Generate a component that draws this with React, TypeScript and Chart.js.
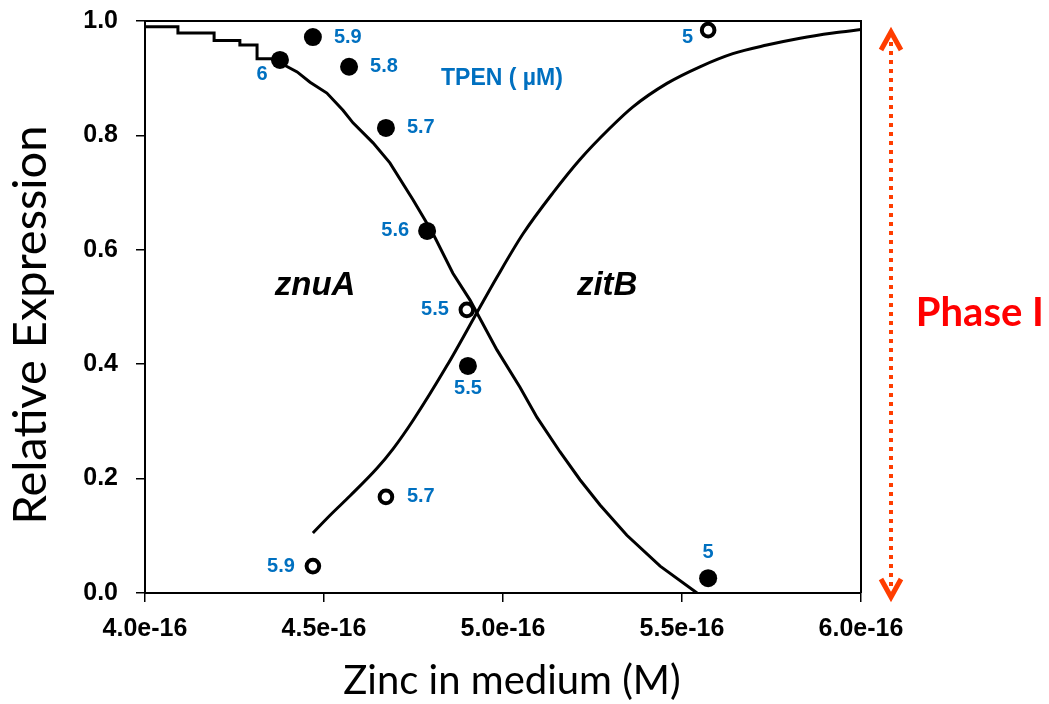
import React, { useEffect, useRef } from 'react';
import { Chart, registerables } from 'chart.js';

Chart.register(...registerables);

// ---- Axis ticks ----
const xTicks = [4.0e-16, 4.5e-16, 5.0e-16, 5.5e-16, 6.0e-16];
const yTicks = [0, 0.2, 0.4, 0.6, 0.8, 1.0];

// ---- Axis titles ----
const xTitle = 'Zinc in medium (M)';
const yTitle = 'Relative Expression';

// ---- Fitted curves ----
const znuACurveX = [
  4.0e-16, 4.092e-16, 4.092e-16, 4.193e-16, 4.193e-16, 4.265e-16, 4.265e-16, 4.313e-16, 4.313e-16, 4.355e-16,
  4.377e-16, 4.425e-16, 4.461e-16, 4.508e-16, 4.553e-16, 4.581e-16, 4.637e-16, 4.684e-16, 4.749e-16, 4.804e-16,
  4.860e-16, 4.908e-16, 4.927e-16, 4.983e-16, 5.047e-16, 5.095e-16, 5.159e-16, 5.215e-16, 5.271e-16, 5.346e-16,
  5.439e-16, 5.542e-16,
];
const znuACurveY = [
  0.990, 0.990, 0.979, 0.979, 0.966, 0.966, 0.958, 0.958, 0.934, 0.934,
  0.927, 0.911, 0.893, 0.874, 0.844, 0.822, 0.787, 0.752, 0.687, 0.629,
  0.559, 0.512, 0.490, 0.425, 0.360, 0.307, 0.247, 0.198, 0.154, 0.101,
  0.047, 0.000,
];
const zitBCurveX = [
  4.469e-16, 4.517e-16, 4.573e-16, 4.648e-16, 4.693e-16, 4.749e-16, 4.844e-16, 4.927e-16, 4.983e-16, 5.056e-16,
  5.140e-16, 5.215e-16, 5.299e-16, 5.363e-16, 5.458e-16, 5.550e-16, 5.642e-16, 5.737e-16, 5.830e-16, 5.922e-16,
  6.0e-16,
];
const zitBCurveY = [
  0.105, 0.136, 0.170, 0.218, 0.252, 0.302, 0.398, 0.490, 0.552, 0.628,
  0.700, 0.758, 0.813, 0.850, 0.891, 0.920, 0.943, 0.958, 0.970, 0.979,
  0.985,
];

// ---- Measured points ----
const znuAPointX = [4.377e-16, 4.469e-16, 4.570e-16, 4.673e-16, 4.788e-16, 4.902e-16, 5.573e-16];
const znuAPointY = [0.932, 0.972, 0.920, 0.813, 0.633, 0.397, 0.026];
const znuALabels = ['6', '5.9', '5.8', '5.7', '5.6', '5.5', '5'];
const znuALabelSide = ['belowLeft', 'right', 'right', 'right', 'left', 'below', 'above'];

const zitBPointX = [4.469e-16, 4.673e-16, 4.899e-16, 5.573e-16];
const zitBPointY = [0.047, 0.168, 0.495, 0.984];
const zitBLabels = ['5.9', '5.7', '5.5', '5'];
const zitBLabelSide = ['left', 'right', 'left', 'leftLow'];

const BLUE = '#0070C0';

const sideOffsets: Record<string, { dx: number; dy: number; align: CanvasTextAlign }> = {
  right: { dx: 21, dy: 0, align: 'left' },
  left: { dx: -18, dy: 0, align: 'right' },
  below: { dx: 0, dy: 23, align: 'center' },
  above: { dx: 0, dy: -26, align: 'center' },
  belowLeft: { dx: -18, dy: 15, align: 'center' },
  leftLow: { dx: -15, dy: 7, align: 'right' },
};

const annotationPlugin = {
  id: 'annotationPlugin',
  afterDraw(chart: any) {
    const { ctx, chartArea, scales } = chart;
    const xs = scales.x;
    const ys = scales.y;
    ctx.save();

    // box top and right border
    ctx.strokeStyle = '#000';
    ctx.lineWidth = 2;
    ctx.beginPath();
    ctx.moveTo(chartArea.left, chartArea.top);
    ctx.lineTo(chartArea.right, chartArea.top);
    ctx.lineTo(chartArea.right, chartArea.bottom);
    ctx.stroke();

    // axis titles
    ctx.fillStyle = '#000';
    ctx.textAlign = 'center';
    ctx.textBaseline = 'middle';
    ctx.font = '40px Lato, "Open Sans", sans-serif';
    ctx.fillText(xTitle, chartArea.left + 367, chartArea.bottom + 88);
    ctx.save();
    ctx.translate(31, chartArea.top + 304);
    ctx.rotate(-Math.PI / 2);
    ctx.font = '47px Lato, "Open Sans", sans-serif';
    ctx.fillText(yTitle, 0, 0);
    ctx.restore();

    // point labels
    ctx.font = 'bold 20px "Liberation Sans", Arial, sans-serif';
    ctx.fillStyle = BLUE;
    ctx.textBaseline = 'middle';
    const groups = [
      { idx: 0, labels: znuALabels, sides: znuALabelSide },
      { idx: 1, labels: zitBLabels, sides: zitBLabelSide },
    ];
    groups.forEach((g) => {
      const meta = chart.getDatasetMeta(g.idx);
      meta.data.forEach((el: any, i: number) => {
        const o = sideOffsets[g.sides[i]];
        ctx.textAlign = o.align;
        ctx.fillText(g.labels[i], el.x + o.dx, el.y + o.dy);
      });
    });

    // TPEN label
    ctx.font = 'bold 23px "Liberation Sans", Arial, sans-serif';
    ctx.textAlign = 'center';
    ctx.fillText('TPEN ( \u00b5M)', xs.getPixelForValue(4.997e-16), ys.getPixelForValue(0.900));

    // gene names
    ctx.fillStyle = '#000';
    ctx.font = 'italic bold 33px "Liberation Sans", Arial, sans-serif';
    ctx.fillText('znuA', xs.getPixelForValue(4.475e-16), ys.getPixelForValue(0.537));
    ctx.fillText('zitB', xs.getPixelForValue(5.291e-16), ys.getPixelForValue(0.537));

    // Phase I arrow
    const ax = chartArea.right + 30;
    const top = chartArea.top + 11;
    const bottom = chartArea.bottom + 4;
    ctx.strokeStyle = '#FF3D00';
    ctx.lineWidth = 4;
    ctx.setLineDash([4, 5]);
    ctx.beginPath();
    ctx.moveTo(ax, top + 10);
    ctx.lineTo(ax, bottom - 10);
    ctx.stroke();
    ctx.setLineDash([]);
    ctx.lineWidth = 5;
    ctx.lineJoin = 'miter';
    ctx.beginPath();
    ctx.moveTo(ax - 10, top + 18);
    ctx.lineTo(ax, top);
    ctx.lineTo(ax + 10, top + 18);
    ctx.stroke();
    ctx.beginPath();
    ctx.moveTo(ax - 10, bottom - 18);
    ctx.lineTo(ax, bottom);
    ctx.lineTo(ax + 10, bottom - 18);
    ctx.stroke();

    ctx.fillStyle = '#FF0000';
    ctx.font = 'bold 40px Lato, "Open Sans", sans-serif';
    ctx.textAlign = 'center';
    ctx.fillText('Phase I', xs.getPixelForValue(6.332e-16), ys.getPixelForValue(0.49));

    ctx.restore();
  },
};

export default function App() {
  const canvasRef = useRef<HTMLCanvasElement | null>(null);

  useEffect(() => {
    const canvas = canvasRef.current;
    if (!canvas) return;
    const tickFont = { family: '"Liberation Sans", Arial, sans-serif', size: 25, weight: 'bold' as const };
    const chart = new Chart(canvas, {
      type: 'scatter',
      data: {
        datasets: [
          {
            label: 'znuA points',
            data: znuAPointX.map((x, i) => ({ x, y: znuAPointY[i] })),
            showLine: false,
            pointRadius: 9,
            pointBackgroundColor: '#000',
            pointBorderColor: '#000',
            pointBorderWidth: 0,
            clip: false,
          } as any,
          {
            label: 'zitB points',
            data: zitBPointX.map((x, i) => ({ x, y: zitBPointY[i] })),
            showLine: false,
            pointRadius: 6.3,
            pointBackgroundColor: '#fff',
            pointBorderColor: '#000',
            pointBorderWidth: 4,
            clip: false,
          } as any,
          {
            label: 'znuA',
            data: znuACurveX.map((x, i) => ({ x, y: znuACurveY[i] })),
            showLine: true,
            borderColor: '#000',
            borderWidth: 3,
            pointRadius: 0,
            tension: 0,
          } as any,
          {
            label: 'zitB',
            data: zitBCurveX.map((x, i) => ({ x, y: zitBCurveY[i] })),
            showLine: true,
            borderColor: '#000',
            borderWidth: 3,
            pointRadius: 0,
            cubicInterpolationMode: 'monotone',
          } as any,
        ],
      },
      options: {
        animation: false,
        responsive: false,
        devicePixelRatio: 1,
        layout: { padding: { top: 21, right: 188, bottom: 0, left: 0 } },
        plugins: { legend: { display: false }, tooltip: { enabled: false } },
        scales: {
          x: {
            type: 'linear',
            min: 4.0e-16,
            max: 6.0e-16,
            afterBuildTicks: (s: any) => {
              s.ticks = xTicks.map((v) => ({ value: v }));
            },
            afterFit: (s: any) => {
              s.height = 111;
              s.paddingLeft = 0;
              s.paddingRight = 0;
            },
            ticks: {
              callback: (v: any) => Number(v).toExponential(1),
              font: tickFont,
              color: '#000',
              padding: 12,
              maxRotation: 0,
              autoSkip: false,
            },
            grid: { drawOnChartArea: false, drawTicks: true, tickLength: 9, color: '#000', lineWidth: 1.5 },
            border: { color: '#000', width: 2 },
          },
          y: {
            type: 'linear',
            min: 0,
            max: 1,
            afterBuildTicks: (s: any) => {
              s.ticks = yTicks.map((v) => ({ value: v }));
            },
            afterFit: (s: any) => {
              s.width = 145;
              s.paddingTop = 0;
              s.paddingBottom = 0;
            },
            ticks: {
              callback: (v: any) => Number(v).toFixed(1),
              font: tickFont,
              color: '#000',
              padding: 18,
            },
            grid: { drawOnChartArea: false, drawTicks: true, tickLength: 9, color: '#000', lineWidth: 1.5 },
            border: { color: '#000', width: 2 },
          },
        },
      },
      plugins: [annotationPlugin],
    });
    return () => chart.destroy();
  }, []);

  return (
    <div style={{ position: 'fixed', left: 0, top: 0, width: 1049, height: 704, background: '#fff' }}>
      <canvas ref={canvasRef} width={1049} height={704} />
    </div>
  );
}
